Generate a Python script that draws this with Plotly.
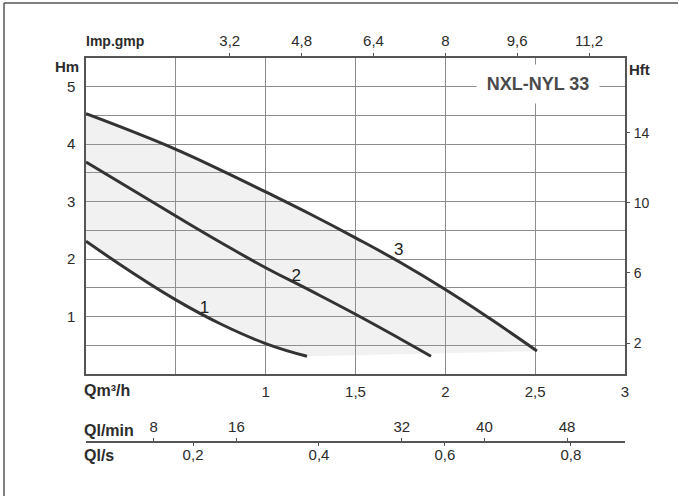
import plotly.graph_objects as go

# Pump curves: flow Q (m3/h) vs head H (m)
q1 = [0, 0.25, 0.5, 0.75, 1.0, 1.23]
h1 = [2.31, 1.78, 1.29, 0.87, 0.53, 0.31]
q2 = [0, 0.25, 0.5, 0.75, 1.0, 1.25, 1.5, 1.75, 1.92]
h2 = [3.69, 3.22, 2.75, 2.29, 1.85, 1.45, 1.04, 0.61, 0.31]
q3 = [0, 0.25, 0.5, 0.75, 1.0, 1.25, 1.5, 1.75, 2.0, 2.25, 2.51]
h3 = [4.53, 4.23, 3.91, 3.55, 3.17, 2.78, 2.37, 1.94, 1.47, 0.96, 0.40]

curve_names = ["1", "2", "3"]
label_q = [0.66, 1.17, 1.74]
label_h = [1.14, 1.70, 2.14]

q_ticks = [0.5, 1, 1.5, 2, 2.5, 3]
q_text = ["", "1", "1,5", "2", "2,5", "3"]
hm_ticks = [0.5, 1, 1.5, 2, 2.5, 3, 3.5, 4, 4.5, 5]
hm_text = ["", "1", "", "2", "", "3", "", "4", "", "5"]
hft_ticks = [2, 6, 10, 14]
gpm_ticks = [3.2, 4.8, 6.4, 8, 9.6, 11.2]
gpm_text = ["3,2", "4,8", "6,4", "8", "9,6", "11,2"]
lmin_ticks = [8, 16, 32, 40, 48]
ls_ticks = [0.2, 0.4, 0.6, 0.8]
ls_text = ["0,2", "0,4", "0,6", "0,8"]

FONT = "Liberation Sans, Arial, sans-serif"
TXT = "#2b2b2b"
GRID = "#8c8c8c"
LINE = "#555555"
TICKF = dict(family=FONT, size=15, color=TXT)

fig = go.Figure()

# shaded working area
fig.add_trace(go.Scatter(
    x=q3 + q1[::-1], y=h3 + h1[::-1], fill="toself",
    fillcolor="rgba(170,170,170,0.16)", line=dict(width=0),
    mode="lines", hoverinfo="skip", showlegend=False))

for q, h in [(q1, h1), (q2, h2), (q3, h3)]:
    fig.add_trace(go.Scatter(x=q, y=h, mode="lines",
                             line=dict(color="#333333", width=3, shape="spline", smoothing=1.3),
                             showlegend=False))

fig.add_trace(go.Scatter(x=label_q, y=label_h, mode="text", text=curve_names,
                         textfont=dict(family=FONT, size=17, color="#222222"),
                         showlegend=False))

# dummy traces for the secondary axes
fig.add_trace(go.Scatter(x=[None], y=[None], xaxis="x2", yaxis="y2", showlegend=False))
fig.add_trace(go.Scatter(x=[None], y=[None], xaxis="x3", showlegend=False))
fig.add_trace(go.Scatter(x=[None], y=[None], xaxis="x4", showlegend=False))

ydom0 = (460 - 374) / 402
pos_q = (460 - 442) / 402

fig.update_layout(
    template="none",
    width=679, height=497,
    margin=dict(l=86, r=54, t=58, b=37, autoexpand=False),
    paper_bgcolor="white", plot_bgcolor="white",
    font=dict(family=FONT, size=15, color=TXT),
    xaxis=dict(range=[0, 3], domain=[0, 1], tickvals=q_ticks, ticktext=q_text,
               showgrid=True, gridcolor=GRID, gridwidth=1, zeroline=False,
               showline=True, linecolor=LINE, linewidth=1.5, mirror=True,
               ticks="", ticklabelstandoff=3, anchor="y", automargin=False,
               tickfont=TICKF),
    yaxis=dict(range=[0, 5.5], domain=[ydom0, 1], tickvals=hm_ticks, ticktext=hm_text,
               showgrid=True, gridcolor=GRID, gridwidth=1, zeroline=False,
               showline=True, linecolor=LINE, linewidth=1.5, mirror=True,
               ticks="", ticklabelstandoff=6, automargin=False, tickfont=TICKF),
    yaxis2=dict(range=[0.23, 5.5 * 3.2808 + 0.23], overlaying="y", side="right", anchor="x",
                tickvals=hft_ticks, showgrid=False, zeroline=False, showline=False,
                ticks="outside", ticklen=4, tickcolor=LINE, ticklabelstandoff=1,
                automargin=False, tickfont=dict(family=FONT, size=14, color=TXT)),
    xaxis2=dict(range=[0, 12], overlaying="x", side="top", anchor="y",
                tickvals=gpm_ticks, ticktext=gpm_text, showgrid=False, zeroline=False,
                showline=False,
                ticks="outside", ticklen=4, tickcolor=LINE, ticklabelstandoff=1,
                automargin=False, tickfont=TICKF),
    xaxis3=dict(range=[1.45, 53.6], overlaying="x", side="top", anchor="free",
                position=pos_q, tickvals=lmin_ticks, showgrid=False, zeroline=False,
                showline=True, linecolor=LINE, linewidth=1.5,
                ticks="outside", ticklen=3, tickcolor=LINE, ticklabelstandoff=0,
                automargin=False, tickfont=TICKF),
    xaxis4=dict(range=[0.030, 0.886], overlaying="x", side="bottom", anchor="free",
                position=pos_q, tickvals=ls_ticks, ticktext=ls_text, showgrid=False,
                zeroline=False, showline=False,
                ticks="outside", ticklen=3, tickcolor=LINE, ticklabelstandoff=-4,
                automargin=False, tickfont=TICKF),
)

def ann(text, xpx, ypx, xanchor="left", size=15, **kw):
    fig.add_annotation(text=text, x=(xpx - 86) / 539, y=(460 - ypx) / 402,
                       xref="paper", yref="paper", xanchor=xanchor, yanchor="middle",
                       showarrow=False, font=dict(family=FONT, size=size, color=TXT), **kw)

ann("<b>Imp.gmp</b>", 84, 41, size=14)
ann("<b>Hm</b>", 81, 67, xanchor="right", size=15)
ann("<b>Hft</b>", 627, 70, size=15)
ann("<b>Qm³/h</b>", 82, 390, size=16)
ann("<b>Ql/min</b>", 82, 430, size=16)
ann("<b>Ql/s</b>", 82, 455, size=16)

fig.add_annotation(text="<b>NXL-NYL 33</b>", x=(538 - 86) / 539, y=(460 - 84) / 402,
                   xref="paper", yref="paper", xanchor="center", yanchor="middle",
                   showarrow=False, width=120, height=36, bgcolor="white",
                   font=dict(family=FONT, size=18, color="#4a4a4a"))

# outer frame (left and top edges)
fig.add_shape(type="line", xref="paper", yref="paper",
              x0=(4 - 86) / 539, x1=(678 - 86) / 539, y0=(460 - 3) / 402, y1=(460 - 3) / 402,
              line=dict(color="#555555", width=1.5))
fig.add_shape(type="line", xref="paper", yref="paper",
              x0=(4 - 86) / 539, x1=(4 - 86) / 539, y0=(460 - 3) / 402, y1=(460 - 496) / 402,
              line=dict(color="#555555", width=1.5))

fig.write_html("out.html", config={"displayModeBar": False},
               post_script="document.body.style.margin='0';document.body.style.overflow='hidden';")
